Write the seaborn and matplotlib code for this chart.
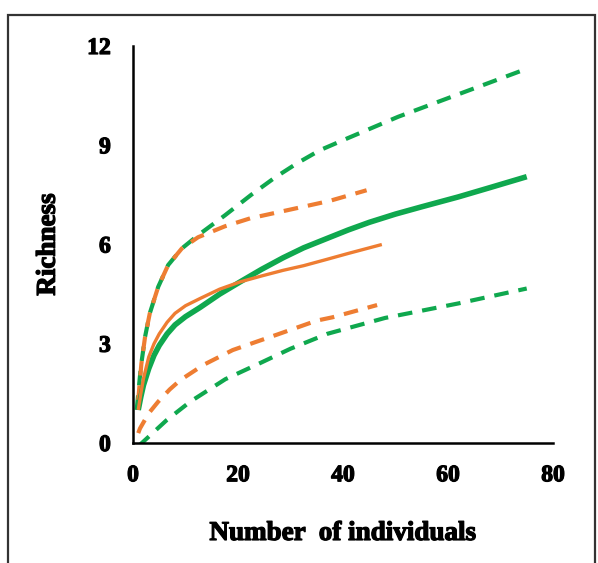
import numpy as np
import pandas as pd
import matplotlib
matplotlib.use("Agg")
import matplotlib.pyplot as plt
import matplotlib.patheffects as pe
import seaborn as sns
from matplotlib.patches import Rectangle

# ---- data ----
green_mean_x = [1, 1.5, 2, 3, 4, 5, 6.5, 8, 10, 12.8, 16.5, 20.4, 24.5, 28.6, 32.5, 36.9, 41, 45, 50, 55, 62, 68, 75]
green_mean_y = [1.0, 1.4, 1.75, 2.25, 2.65, 2.95, 3.3, 3.57, 3.82, 4.1, 4.5, 4.87, 5.25, 5.6, 5.9, 6.18, 6.44, 6.67, 6.92, 7.14, 7.44, 7.72, 8.05]

green_upper_x = [0.7, 1.5, 2.3, 3.2, 4.8, 6.7, 9.3, 12.4, 17.5, 22.5, 27, 31.2, 35.6, 41, 50.5, 62.3, 74.3]
green_upper_y = [1.0, 2.3, 3.21, 3.92, 4.72, 5.38, 5.88, 6.28, 6.88, 7.5, 8.02, 8.45, 8.85, 9.22, 9.86, 10.56, 11.27]

green_lower_x = [1, 2.3, 6.4, 10.9, 17.6, 24, 30, 37, 48, 55, 62, 75]
green_lower_y = [-0.1, 0.09, 0.69, 1.25, 1.93, 2.4, 2.85, 3.3, 3.78, 4.0, 4.22, 4.67]

orange_mean_x = [1, 1.5, 2, 3, 4, 5, 6.5, 8, 10, 12.8, 16.5, 20.4, 24.5, 28.6, 32.5, 36.9, 41, 47.4]
orange_mean_y = [1.0, 1.5, 1.95, 2.6, 3.0, 3.3, 3.65, 3.92, 4.15, 4.37, 4.65, 4.87, 5.05, 5.22, 5.36, 5.55, 5.73, 6.0]

orange_upper_x = [1, 1.6, 2.3, 3.2, 4.8, 6.7, 9.3, 12.4, 17.5, 22.3, 31.8, 37.5, 44.5]
orange_upper_y = [1.3, 2.4, 3.21, 3.92, 4.72, 5.38, 5.88, 6.22, 6.55, 6.79, 7.12, 7.32, 7.64]

orange_lower_x = [1, 1.33, 3, 4.8, 7, 9, 13.4, 19, 23.5, 27.5, 35, 38, 46.5]
orange_lower_y = [0.3, 0.44, 0.9, 1.25, 1.62, 1.9, 2.36, 2.81, 3.06, 3.28, 3.7, 3.8, 4.17]

x_ticks = [0, 20, 40, 60, 80]
y_ticks = [0, 3, 6, 9, 12]

GREEN = "#0FA84E"
ORANGE = "#EE7D32"

sns.set_style("white")
plt.rcParams['font.family'] = ['Liberation Serif', 'DejaVu Serif']
plt.rcParams['font.weight'] = 'bold'
for k in ['text.color', 'axes.labelcolor', 'xtick.color', 'ytick.color']:
    plt.rcParams[k] = 'black'

fig = plt.figure(figsize=(5.98, 5.63), dpi=100)
ax = fig.add_axes([0.2224, 0.2131, 0.7023, 0.7052])

series = [
    (green_upper_x, green_upper_y, GREEN, 3.0, (3.5, 2.4)),
    (green_lower_x, green_lower_y, GREEN, 3.0, (3.5, 2.4)),
    (orange_upper_x, orange_upper_y, ORANGE, 3.0, (3.5, 2.4)),
    (orange_lower_x, orange_lower_y, ORANGE, 3.0, (3.5, 2.4)),
    (green_mean_x, green_mean_y, GREEN, 4.0, None),
    (orange_mean_x, orange_mean_y, ORANGE, 2.4, None),
]
for xs, ys, col, lw, dash in series:
    df = pd.DataFrame({"x": xs, "y": ys})
    sns.lineplot(data=df, x="x", y="y", ax=ax, color=col, linewidth=lw,
                 sort=False, estimator=None, errorbar=None)
    l = ax.lines[-1]
    if dash is not None:
        l.set_dashes(dash)
    l.set_solid_capstyle('butt')
    l.set_dash_capstyle('butt')
    l.set_solid_joinstyle('round')

ax.set_xlim(0, 80)
ax.set_ylim(0, 12)
ax.set_xticks(x_ticks)
ax.set_yticks(y_ticks)
ax.set_xticklabels([str(v) for v in x_ticks])
ax.set_yticklabels([str(v) for v in y_ticks])

for s in ["top", "right"]:
    ax.spines[s].set_visible(False)
for s in ["left", "bottom"]:
    ax.spines[s].set_color("black")
    ax.spines[s].set_linewidth(1.8)

ax.tick_params(axis="both", direction="in", length=5, width=1.8, color="black",
               labelsize=17, labelcolor="black")
ax.tick_params(axis="x", pad=16)
ax.tick_params(axis="y", pad=16)

heavy = [pe.withStroke(linewidth=0.9, foreground="black")]
for lab in ax.get_xticklabels() + ax.get_yticklabels():
    lab.set_fontweight("bold")
    lab.set_path_effects(heavy)

ax.set_xlabel("Number  of individuals", fontsize=19.5, fontweight="bold", labelpad=25,
              path_effects=heavy)
ax.set_ylabel("Richness", fontsize=19.5, fontweight="bold", labelpad=19,
              path_effects=heavy)

# outer frame
fig.patches.append(Rectangle((0.014, -0.02), 0.981, 0.994, transform=fig.transFigure,
                             fill=False, edgecolor="#333333", linewidth=1.6))

fig.savefig("out.png", dpi=100)
